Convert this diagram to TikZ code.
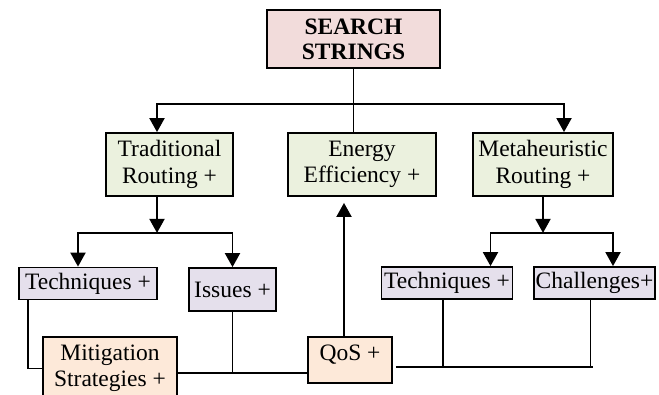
\documentclass[tikz,border=0pt]{standalone}
\usepackage{fontspec}
\setmainfont{Liberation Serif}
\usetikzlibrary{positioning,arrows.meta,calc}
\definecolor{titlepink}{HTML}{F2DCDB}
\definecolor{routegreen}{HTML}{EBF1DE}
\definecolor{subpurple}{HTML}{E5E0EC}
\definecolor{qosorange}{HTML}{FDE9D9}

\begin{document}
\begin{tikzpicture}[
    x=1pt, y=-1pt,
    box/.style={draw, line width=1.8pt, inner sep=1pt, align=center, font=\fontsize{23.5}{26.5}\selectfont},
    arrow/.style={-{Triangle[length=14pt,width=15pt]}, line width=1.9pt},
    line/.style={line width=1.9pt}
]
\useasboundingbox (0,0) rectangle (659,394);
% Top
\node[box, fill=titlepink, minimum width=173pt, minimum height=58pt, font=\fontsize{23.5}{25}\selectfont\bfseries] (search) at (353.5,39) {SEARCH\\STRINGS};
% Second level
\node[box, fill=routegreen, minimum width=127pt, minimum height=63pt] (trad) at (169.5,164.5) {Traditional\\Routing +};
\node[box, fill=routegreen, minimum width=148pt, minimum height=63pt] (energy) at (362,164.5) {Energy\\Efficiency +};
\node[box, fill=routegreen, minimum width=140pt, minimum height=63pt] (meta) at (543,164.5) {Metaheuristic\\Routing +};
% Third level
\node[box, fill=subpurple, minimum width=138pt, minimum height=32pt] (tech1) at (88,283.5) {Techniques +};
\node[box, fill=subpurple, minimum width=87pt, minimum height=43pt] (issues) at (232.5,289.5) {Issues +};
\node[box, fill=subpurple, minimum width=131pt, minimum height=32pt] (tech2) at (447,283) {Techniques +};
\node[box, fill=subpurple, minimum width=121pt, minimum height=32pt] (chall) at (594.5,283) {Challenges+};
% Bottom
\node[box, fill=qosorange, minimum width=134pt, minimum height=63pt] (mitig) at (110,368.5) {Mitigation\\Strategies +};
\node[box, fill=qosorange, minimum width=84pt, minimum height=46pt, text depth=14pt] (qos) at (350,360) {QoS +};

% Arrows from the top
\coordinate (topsplit) at ($(search.south)+(0,35)$);
\draw[line] (search.south) -- (search.south |- energy.north);
\draw[arrow] (topsplit) -| ([xshift=-12.5pt]trad.north);
\draw[arrow] (topsplit) -| ([xshift=21pt]meta.north);

% Left branch
\draw[arrow] ([xshift=-12.5pt]trad.south) -- ++(0,36) coordinate (leftsplit);
\draw[arrow] (leftsplit) -| ([xshift=-10pt]tech1.north);
\draw[arrow] (leftsplit) -| (issues.north);

% Right branch
\draw[arrow] (meta.south) -- ++(0,36) coordinate (rightsplit);
\draw[arrow] (rightsplit) -| ([xshift=43.5pt]tech2.north);
\draw[arrow] (rightsplit) -| ([xshift=18.5pt]chall.north);

% QoS up to energy
\draw[arrow, shorten >=6pt] ([xshift=-6pt]qos.north) -- ([xshift=-6pt]qos.north |- energy.south);

% Bottom links
\draw[line] ([xshift=10pt]tech1.south west) |- (mitig.west);
\draw[line] (issues.south) -- ++(0,61) coordinate (issuesjoin);
\draw[line] (mitig.east |- issuesjoin) -- (qos.west |- issuesjoin);
\draw[line] ([xshift=-4pt]tech2.south) -- ++(0,67) coordinate (techjoin);
\draw[line] ([xshift=-4pt]chall.south) -- ([xshift=-4pt]chall.south |- techjoin);
\draw[line] ([xshift=3pt]qos.east |- techjoin) -- ([xshift=-2pt]chall.south |- techjoin);
\end{tikzpicture}
\end{document}
